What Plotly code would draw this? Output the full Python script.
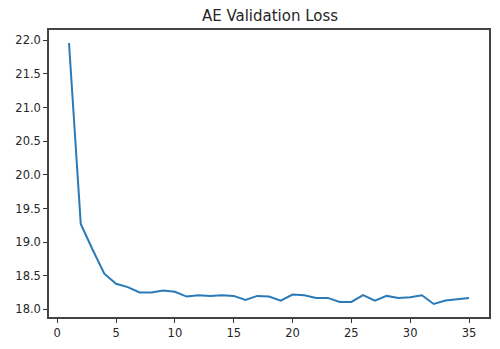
import plotly.graph_objects as go

epochs = list(range(1, 36))
val_loss = [21.96, 19.27, 18.89, 18.53, 18.38, 18.33, 18.25, 18.25, 18.28, 18.26,
            18.19, 18.21, 18.20, 18.21, 18.20, 18.14, 18.20, 18.19, 18.13, 18.22,
            18.21, 18.17, 18.17, 18.11, 18.11, 18.21, 18.13, 18.20, 18.17, 18.18,
            18.21, 18.08, 18.13, 18.15, 18.17]

x_ticks = [0, 5, 10, 15, 20, 25, 30, 35]
y_ticks = [18.0, 18.5, 19.0, 19.5, 20.0, 20.5, 21.0, 21.5, 22.0]

fig = go.Figure()
fig.add_trace(go.Scatter(x=epochs, y=val_loss, mode="lines",
                         line=dict(color="#2a7ab8", width=2)))

axis_common = dict(showgrid=False, zeroline=False, showline=True, mirror=True,
                   linecolor="#444444", linewidth=1.5, ticks="outside", ticklen=4,
                   tickwidth=1, tickcolor="#333333",
                   tickfont=dict(family="DejaVu Sans", size=11.5, color="#262626"))

fig.update_layout(
    width=500, height=349,
    margin=dict(l=49, r=9, t=30, b=31),
    paper_bgcolor="white", plot_bgcolor="white",
    showlegend=False,
    title=dict(text="AE Validation Loss", x=0.54, xanchor="center", y=0.955, yanchor="middle",
               font=dict(family="DejaVu Sans", size=15, color="#262626")),
    xaxis=dict(range=[-0.7, 36.7], tickvals=x_ticks, **axis_common),
    yaxis=dict(range=[17.886, 22.154], tickvals=y_ticks, tickformat=".1f", **axis_common),
)

fig.write_html("out.html")
